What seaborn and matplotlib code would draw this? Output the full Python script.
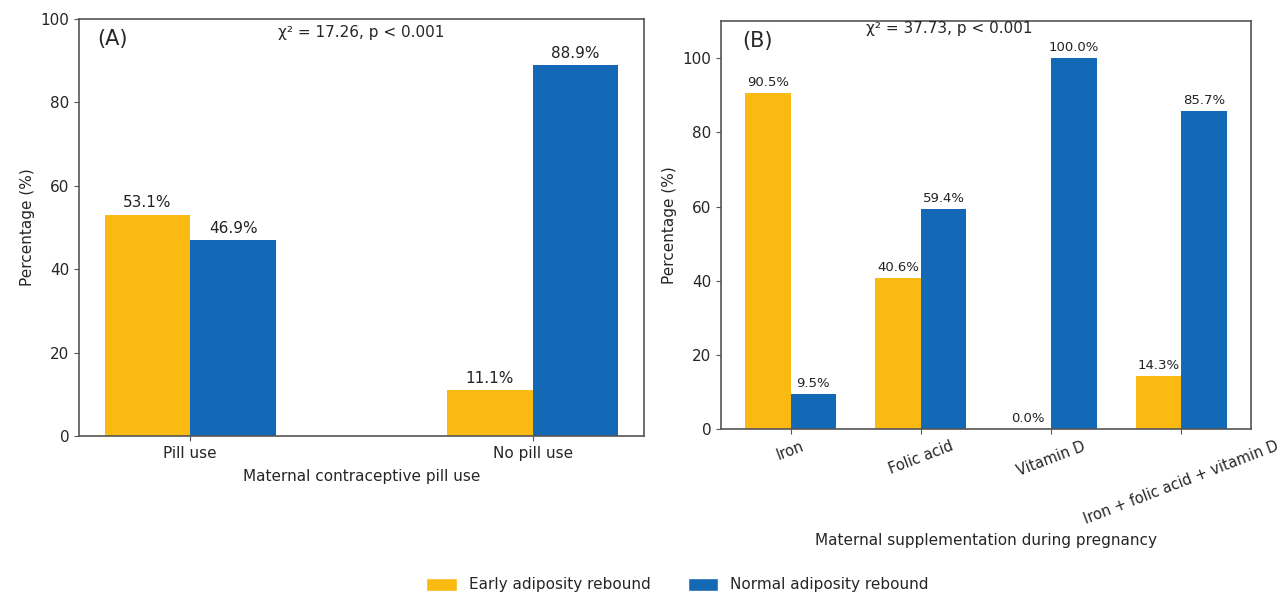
import matplotlib
matplotlib.use("Agg")
import matplotlib.pyplot as plt
import seaborn as sns
import pandas as pd
from matplotlib.patches import Patch

sns.set_style("ticks")
plt.rcParams["font.family"] = ["DejaVu Sans"]

# Data
groups = ["Early adiposity rebound", "Normal adiposity rebound"]
colors = ["#FBBA12", "#1469B6"]

pill_categories = ["Pill use", "No pill use"]
pill_early = [53.1, 11.1]
pill_normal = [46.9, 88.9]
pill_stat = "χ² = 17.26, p < 0.001"

supp_categories = ["Iron", "Folic acid", "Vitamin D", "Iron + folic acid + vitamin D"]
supp_early = [90.5, 40.6, 0.0, 14.3]
supp_normal = [9.5, 59.4, 100.0, 85.7]
supp_stat = "χ² = 37.73, p < 0.001"


def long_frame(categories, early, normal):
    return pd.DataFrame({
        "category": categories * 2,
        "pct": list(early) + list(normal),
        "group": [groups[0]] * len(categories) + [groups[1]] * len(categories),
    })


fig = plt.figure(figsize=(12.81, 5.92), dpi=100)
axA = fig.add_axes([0.0617, 0.2635, 0.441, 0.7044])
axB = fig.add_axes([0.5628, 0.2753, 0.4137, 0.689])

spine_color = "#555555"


def draw_panel(ax, categories, early, normal, width, xlim, ylim, label_size):
    df = long_frame(categories, early, normal)
    sns.barplot(data=df, x="category", y="pct", hue="group", order=categories,
                hue_order=groups, palette=colors, width=width, saturation=1,
                ax=ax, legend=False, errorbar=None, linewidth=0)
    for cont in ax.containers:
        for bar in cont:
            h = bar.get_height()
            ax.annotate(f"{h:.1f}%", (bar.get_x() + bar.get_width() / 2, h),
                        xytext=(0, 3), textcoords="offset points",
                        ha="center", va="bottom", fontsize=label_size, color="#222222")
    ax.set_xlim(*xlim)
    ax.set_ylim(*ylim)
    ax.set_ylabel("Percentage (%)", fontsize=11)
    ax.tick_params(labelsize=11, color=spine_color)
    for sp in ax.spines.values():
        sp.set_color(spine_color)
        sp.set_linewidth(1.2)


# Panel A: contraceptive pill use
draw_panel(axA, pill_categories, pill_early, pill_normal, 0.5,
           (-0.325, 1.325), (0, 100), 11)
axA.set_xlabel("Maternal contraceptive pill use", fontsize=11, labelpad=6)
axA.text(0.032, 0.975, "(A)", transform=axA.transAxes, ha="left", va="top", fontsize=15)
axA.text(0.5, 0.985, pill_stat, transform=axA.transAxes, ha="center", va="top", fontsize=11)

# Panel B: supplementation during pregnancy
draw_panel(axB, supp_categories, supp_early, supp_normal, 0.7,
           (-0.535, 3.535), (0, 110), 9.5)
axB.set_xlabel("Maternal supplementation during pregnancy", fontsize=11)
axB.tick_params(axis="x", labelsize=10.5)
for lab in axB.get_xticklabels():
    lab.set_rotation(21)
    lab.set_ha("center")
axB.text(0.04, 0.975, "(B)", transform=axB.transAxes, ha="left", va="top", fontsize=15)
axB.text(0.43, 1.0, supp_stat, transform=axB.transAxes, ha="center", va="top", fontsize=11)

# Shared legend along the bottom
handles = [Patch(facecolor=c, label=g) for c, g in zip(colors, groups)]
fig.legend(handles=handles, loc="lower center", bbox_to_anchor=(0.529, -0.024),
           ncol=2, frameon=False, fontsize=11, columnspacing=2.4,
           handlelength=2.0, handleheight=0.95, handletextpad=0.8)

fig.savefig("out.png", dpi=100, facecolor="white")
